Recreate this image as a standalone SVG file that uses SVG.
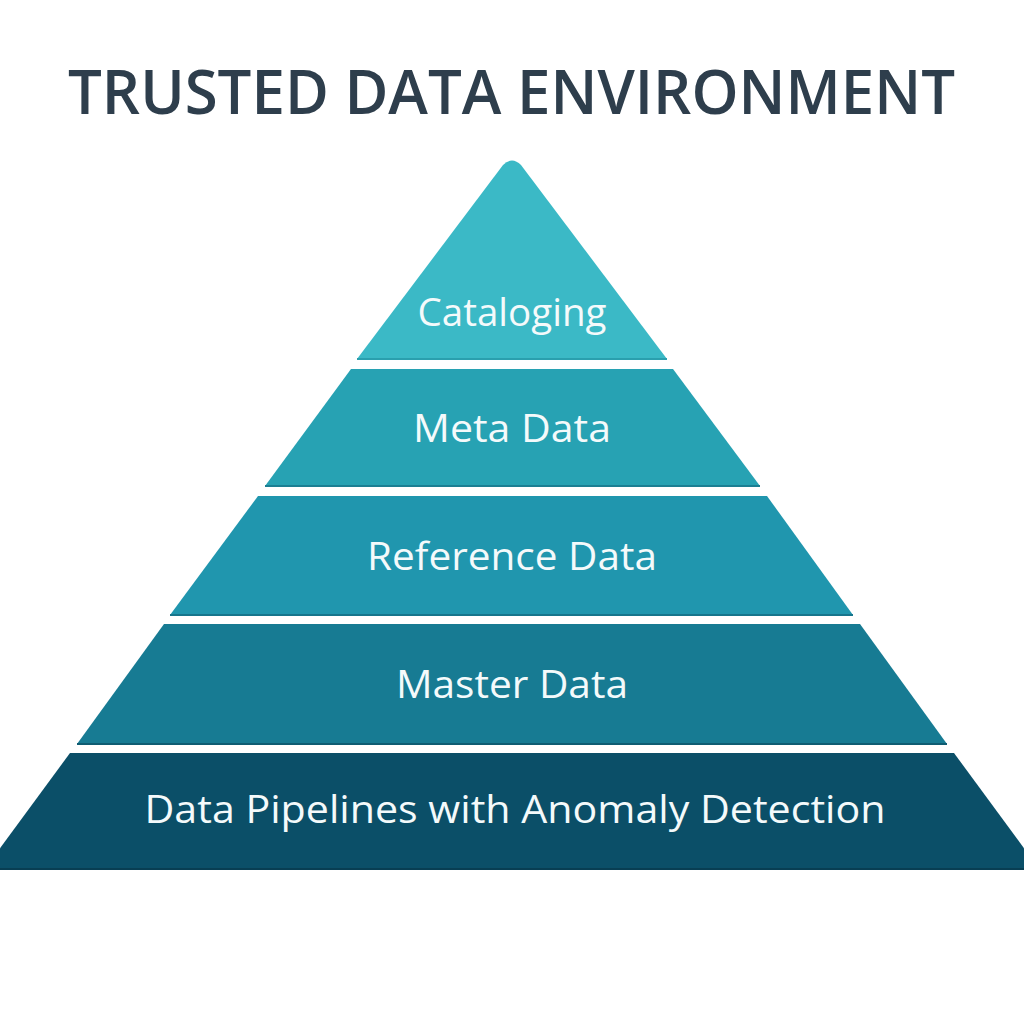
<svg xmlns="http://www.w3.org/2000/svg" width="1024" height="1024" viewBox="0 0 1024 1024">
<style>
.title{font-family:"Open Sans","Liberation Sans",sans-serif;font-weight:600;font-size:61px;fill:#2E3E4C}
.lbl{font-family:"Open Sans","Liberation Sans",sans-serif;font-weight:500;font-size:38px;fill:#F4FAFB;text-anchor:middle}
.edge{stroke-width:2;fill:none}
</style>
<rect width="1024" height="1024" fill="#FFFFFF"/>
<text class="title" x="68" y="114" textLength="887" lengthAdjust="spacingAndGlyphs">TRUSTED DATA ENVIRONMENT</text>
<g id="layer1">
<path d="M357,359 L503,165 Q512,156 521,165 L667,359 Z" fill="#3BB9C6"/>
<line class="edge" x1="357" y1="359" x2="667" y2="359" stroke="#2A9FAE"/>
<text class="lbl" x="512" y="326" textLength="189" lengthAdjust="spacingAndGlyphs">Cataloging</text>
</g>
<g id="layer2">
<polygon points="351,369 673,369 760,486 265,486" fill="#27A2B3"/>
<line class="edge" x1="265" y1="486" x2="760" y2="486" stroke="#1B7F93"/>
<text class="lbl" x="512" y="442" textLength="198" lengthAdjust="spacingAndGlyphs">Meta Data</text>
</g>
<g id="layer3">
<polygon points="258,496 767,496 853,615 170,615" fill="#2096AE"/>
<line class="edge" x1="170" y1="615" x2="853" y2="615" stroke="#16758C"/>
<text class="lbl" x="512" y="570" textLength="290" lengthAdjust="spacingAndGlyphs">Reference Data</text>
</g>
<g id="layer4">
<polygon points="164,624 860,624 947,744 77,744" fill="#177B93"/>
<line class="edge" x1="77" y1="744" x2="947" y2="744" stroke="#0F5C72"/>
<text class="lbl" x="512" y="698" textLength="232" lengthAdjust="spacingAndGlyphs">Master Data</text>
</g>
<g id="layer5">
<polygon points="70,753 954,753 1040,870 -16,870" fill="#0B4F68"/>
<line class="edge" x1="0" y1="869" x2="1024" y2="869" stroke="#083E53"/>
<text class="lbl" x="515" y="823" textLength="741" lengthAdjust="spacingAndGlyphs">Data Pipelines with Anomaly Detection</text>
</g>
</svg>
